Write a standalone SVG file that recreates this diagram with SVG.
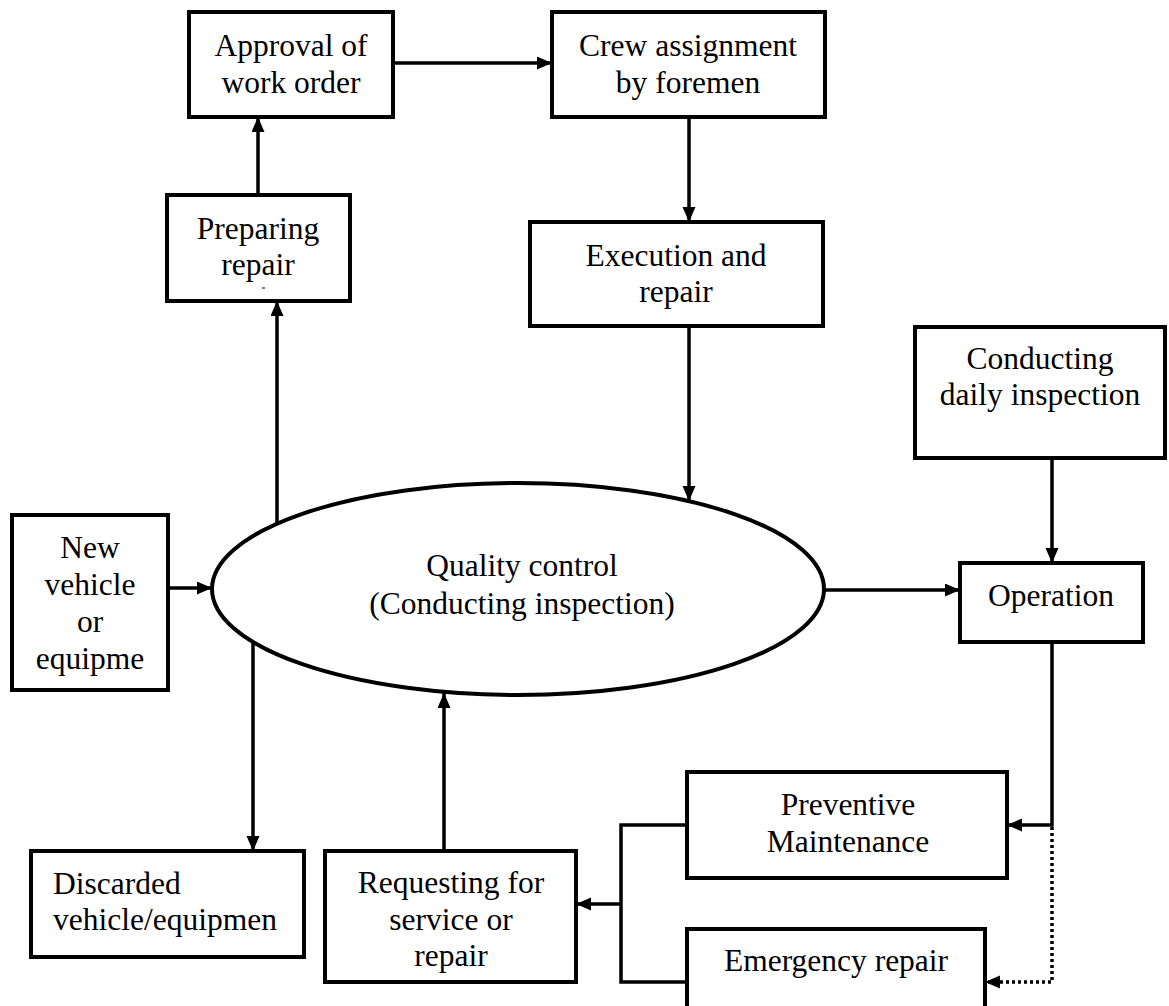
<svg xmlns="http://www.w3.org/2000/svg" width="1169" height="1006" viewBox="0 0 1169 1006">
  <defs>
    <style>
      .box { fill: #ffffff; stroke: #000000; stroke-width: 4; }
      .oval { fill: #ffffff; stroke: #000000; stroke-width: 4; }
      .lbl { font-family: "Liberation Serif", "Times New Roman", serif; font-size: 31.5px; fill: #000000; text-anchor: middle; }
      .lbl-left { font-family: "Liberation Serif", "Times New Roman", serif; font-size: 31.5px; fill: #000000; text-anchor: start; }
      .wire { fill: none; stroke: #000000; stroke-width: 3.5; }
      .dotted { fill: none; stroke: #000000; stroke-width: 3.5; stroke-dasharray: 3 3; }
    </style>
    <marker id="head" markerUnits="userSpaceOnUse" markerWidth="16" markerHeight="14" refX="15" refY="6.5" orient="auto">
      <path d="M0,0 L15,6.5 L0,13 z" fill="#000000"/>
    </marker>
  </defs>

  <rect width="1169" height="1006" fill="#ffffff"/>

  <!-- connectors -->
  <g id="connectors">
    <path class="wire" d="M393,63 H552" marker-end="url(#head)"/>
    <path class="wire" d="M689,117 V222" marker-end="url(#head)"/>
    <path class="wire" d="M689,326 V501" marker-end="url(#head)"/>
    <path class="wire" d="M258,195 V117" marker-end="url(#head)"/>
    <path class="wire" d="M277,535 V301" marker-end="url(#head)"/>
    <path class="wire" d="M168,588 H212" marker-end="url(#head)"/>
    <path class="wire" d="M825,590 H960" marker-end="url(#head)"/>
    <path class="wire" d="M1052,458 V563" marker-end="url(#head)"/>
    <path class="wire" d="M1052,642 V825 H1007" marker-end="url(#head)"/>
    <path class="dotted" d="M1052,827 V982 H985" marker-end="url(#head)"/>
    <path class="wire" d="M687,825 H621 V982 H687"/>
    <path class="wire" d="M621,904 H576" marker-end="url(#head)"/>
    <path class="wire" d="M444,851 V693" marker-end="url(#head)"/>
    <path class="wire" d="M253,637 V851" marker-end="url(#head)"/>
  </g>

  <g id="approval">
    <rect class="box" x="189" y="12" width="204" height="105"/>
    <text class="lbl" x="291" y="56">Approval of</text>
    <text class="lbl" x="291" y="93">work order</text>
  </g>

  <g id="crew">
    <rect class="box" x="552" y="12" width="273" height="105"/>
    <text class="lbl" x="688" y="56">Crew assignment</text>
    <text class="lbl" x="688" y="93">by foremen</text>
  </g>

  <g id="preparing">
    <rect class="box" x="167" y="195" width="183" height="106"/>
    <text class="lbl" x="258" y="239">Preparing</text>
    <text class="lbl" x="258" y="275">repair</text>
    <line x1="262" y1="288" x2="265" y2="288" stroke="#000000" stroke-width="1"/>
  </g>

  <g id="execution">
    <rect class="box" x="530" y="222" width="293" height="104"/>
    <text class="lbl" x="676" y="266">Execution and</text>
    <text class="lbl" x="676" y="302">repair</text>
  </g>

  <g id="daily-inspection">
    <rect class="box" x="915" y="327" width="250" height="131"/>
    <text class="lbl" x="1040" y="369">Conducting</text>
    <text class="lbl" x="1040" y="405">daily inspection</text>
  </g>

  <g id="quality-control">
    <ellipse class="oval" cx="518" cy="589" rx="306" ry="106"/>
    <text class="lbl" x="522" y="576">Quality control</text>
    <text class="lbl" x="522" y="614">(Conducting inspection)</text>
  </g>

  <g id="new-vehicle">
    <rect class="box" x="12" y="515" width="156" height="175"/>
    <text class="lbl" x="90" y="558">New</text>
    <text class="lbl" x="90" y="595">vehicle</text>
    <text class="lbl" x="90" y="632">or</text>
    <text class="lbl" x="90" y="669">equipme</text>
  </g>

  <g id="operation">
    <rect class="box" x="960" y="563" width="183" height="79"/>
    <text class="lbl" x="1051" y="606">Operation</text>
  </g>

  <g id="preventive">
    <rect class="box" x="687" y="772" width="320" height="106"/>
    <text class="lbl" x="848" y="815">Preventive</text>
    <text class="lbl" x="848" y="852">Maintenance</text>
  </g>

  <g id="emergency">
    <rect class="box" x="687" y="929" width="298" height="100"/>
    <text class="lbl" x="836" y="971">Emergency repair</text>
  </g>

  <g id="requesting">
    <rect class="box" x="325" y="851" width="251" height="131"/>
    <text class="lbl" x="451" y="893">Requesting for</text>
    <text class="lbl" x="451" y="930">service or</text>
    <text class="lbl" x="451" y="966">repair</text>
  </g>

  <g id="discarded">
    <rect class="box" x="31" y="851" width="273" height="106"/>
    <text class="lbl-left" x="53" y="894">Discarded</text>
    <text class="lbl-left" x="53" y="930">vehicle/equipmen</text>
  </g>
</svg>
